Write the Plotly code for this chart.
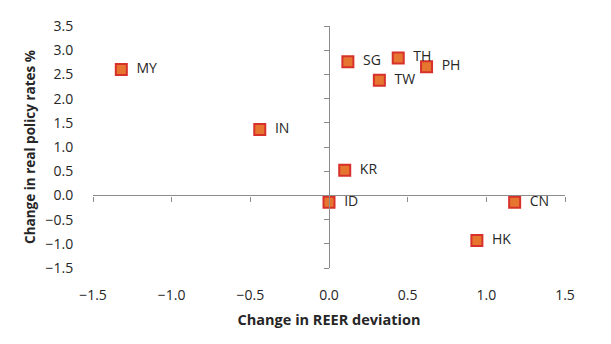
import plotly.graph_objects as go

countries = ["MY", "IN", "SG", "TH", "TW", "PH", "KR", "ID", "CN", "HK"]
reer_change = [-1.32, -0.44, 0.12, 0.44, 0.32, 0.62, 0.10, 0.00, 1.18, 0.94]
rate_change = [2.60, 1.36, 2.76, 2.84, 2.38, 2.66, 0.52, -0.14, -0.14, -0.93]

x_ticks = [-1.5, -1.0, -0.5, 0.0, 0.5, 1.0, 1.5]
y_ticks = [-1.5, -1.0, -0.5, 0.0, 0.5, 1.0, 1.5, 2.0, 2.5, 3.0, 3.5]

FONT = "Open Sans"
AXIS_COLOR = "#8c8c8c"
TXT = "#262626"

labels = ["&nbsp;&nbsp;" + c for c in countries]

fig = go.Figure()
# invisible trace to bind the crossing axes
fig.add_trace(go.Scatter(x=[0], y=[0], xaxis="x2", yaxis="y2", mode="markers",
                         marker=dict(opacity=0), showlegend=False, hoverinfo="skip"))
fig.add_trace(go.Scatter(
    x=reer_change, y=rate_change, mode="markers+text",
    text=labels, textposition="middle right",
    textfont=dict(family=FONT, size=14, color=TXT),
    marker=dict(symbol="square", size=11, color="#e6762f",
                line=dict(color="#d8302a", width=2)),
    cliponaxis=False, showlegend=False,
))

fig.update_layout(
    width=611, height=344,
    margin=dict(l=93, r=46, t=26, b=76),
    paper_bgcolor="white", plot_bgcolor="white",
    font=dict(family=FONT, size=14, color=TXT),
    xaxis=dict(range=[-1.5, 1.5], tickvals=x_ticks, tickformat=".1f",
               showgrid=False, zeroline=False, showline=False,
               ticks="outside", tickcolor="rgba(0,0,0,0)", ticklen=14,
               tickfont=dict(family=FONT, size=14, color=TXT),
               title=dict(text="<b>Change in REER deviation</b>",
                          font=dict(family=FONT, size=14.5, color=TXT), standoff=12)),
    yaxis=dict(range=[-1.5, 3.5], tickvals=y_ticks, tickformat=".1f",
               showgrid=False, zeroline=False, showline=False,
               ticks="outside", tickcolor="rgba(0,0,0,0)", ticklen=16,
               tickfont=dict(family=FONT, size=14, color=TXT),
               title=dict(text="<b>Change in real policy rates %</b>",
                          font=dict(family=FONT, size=13.5, color=TXT), standoff=6)),
    xaxis2=dict(overlaying="x", matches="x", anchor="free", position=0.3,
                range=[-1.5, 1.5], tickvals=x_ticks, showticklabels=False,
                showgrid=False, zeroline=False, showline=True, linecolor=AXIS_COLOR,
                linewidth=1.3, ticks="outside", ticklen=5, tickcolor=AXIS_COLOR, tickwidth=1.3),
    yaxis2=dict(overlaying="y", matches="y", anchor="free", position=0.5, side="left",
                range=[-1.5, 3.5], tickvals=y_ticks, showticklabels=False,
                showgrid=False, zeroline=False, showline=True, linecolor=AXIS_COLOR,
                linewidth=1.3, ticks="outside", ticklen=5, tickcolor=AXIS_COLOR, tickwidth=1.3),
)

fig.write_html("out.html")
